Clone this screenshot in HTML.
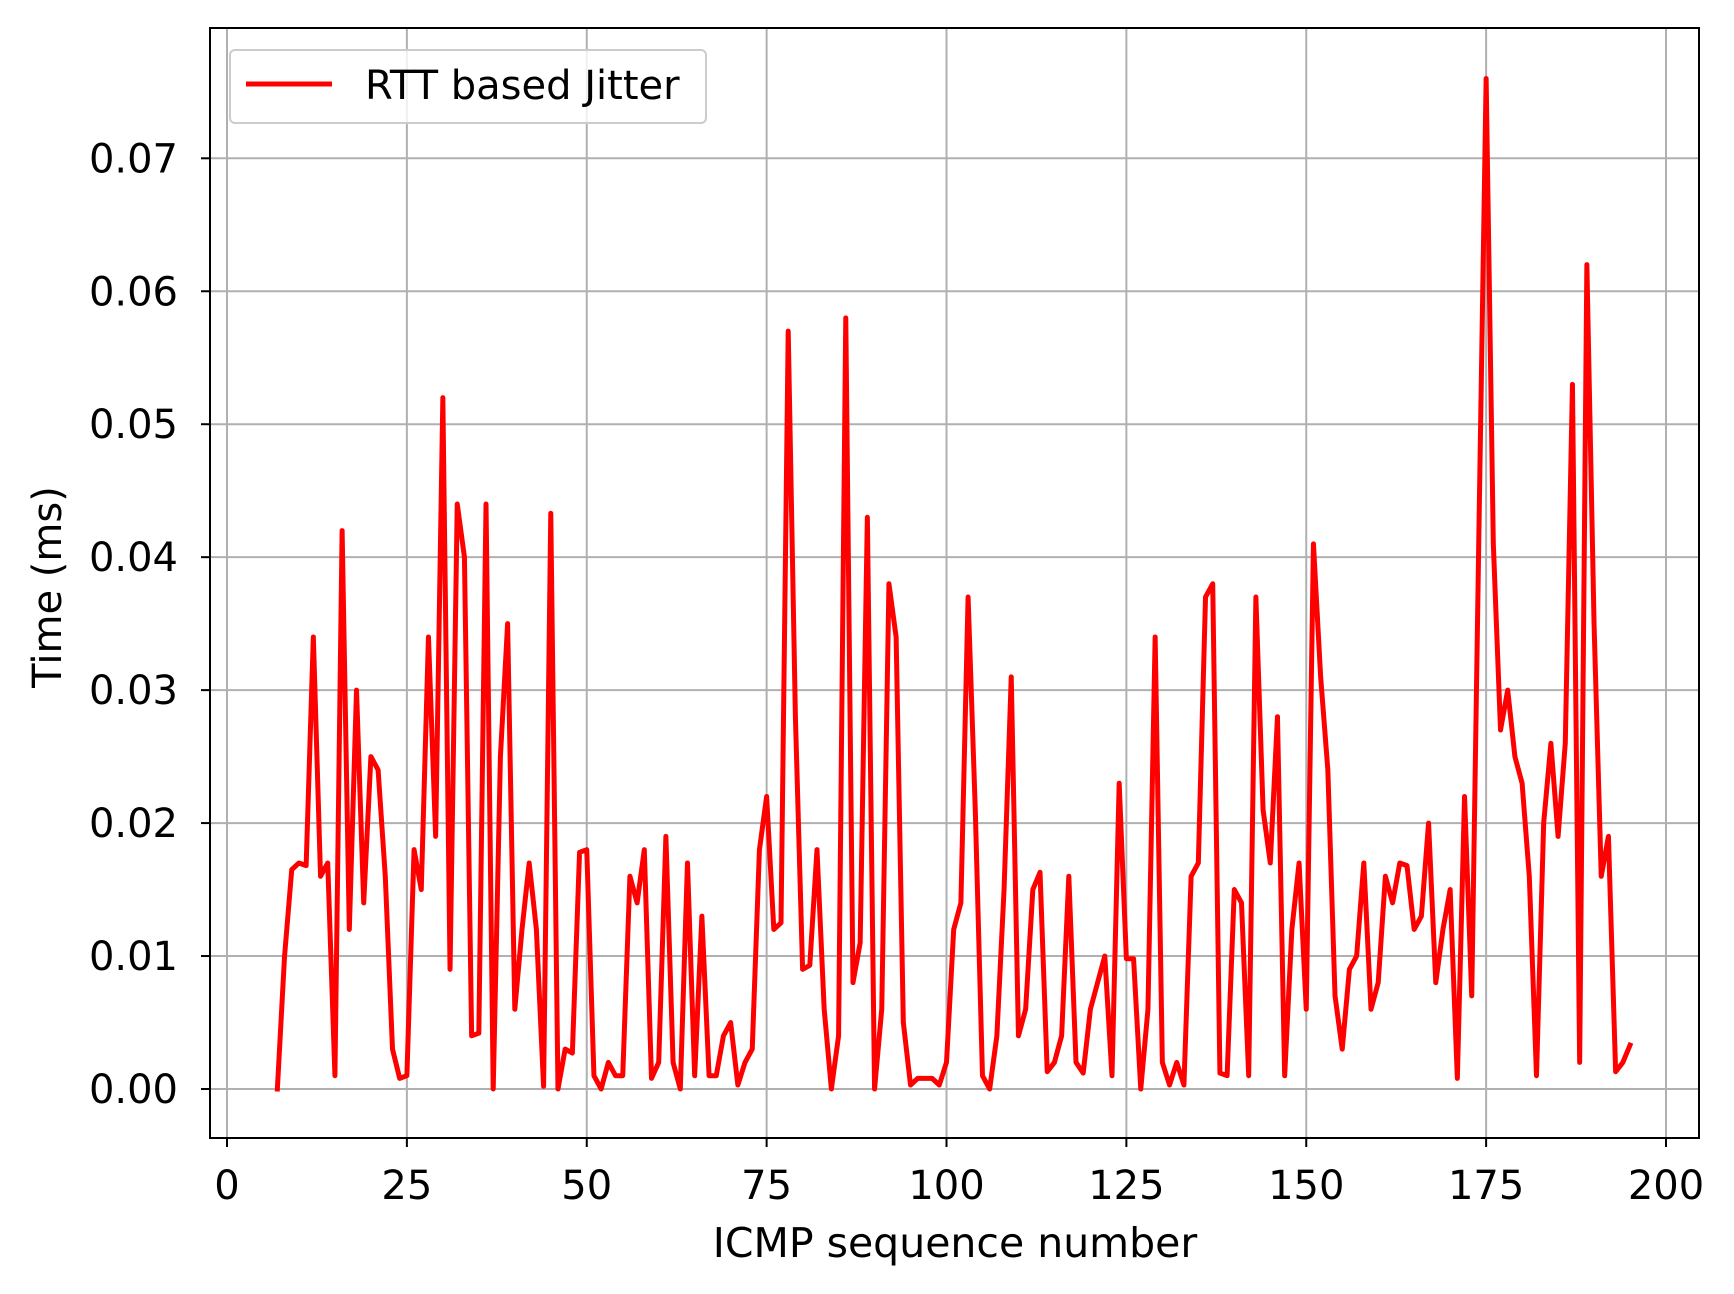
<!DOCTYPE html>
<html><head><meta charset="utf-8"><style>
html,body{margin:0;padding:0;background:#fff;}
svg{display:block;font-family:"DejaVu Sans","Liberation Sans",sans-serif;}
</style></head><body>
<svg id="chart" width="1734" height="1294" viewBox="0 0 1734 1294" xmlns="http://www.w3.org/2000/svg">
<rect width="1734" height="1294" fill="#fff"/>
<g id="grid"></g>
<g id="series"></g>
<rect x="210" y="28" width="1489" height="1110" fill="none" stroke="#000" stroke-width="2"/>
<g id="ticks"></g>
<text x="955" y="1257" font-size="41" text-anchor="middle">ICMP sequence number</text>
<text transform="translate(61,587) rotate(-90)" font-size="40" text-anchor="middle">Time (ms)</text>
<g>
<rect x="230" y="50" width="476" height="73" rx="5" fill="#fff" fill-opacity="0.8" stroke="#ccc" stroke-width="2"/>
<line x1="246" y1="84" x2="332" y2="84" stroke="#f00" stroke-width="5"/>
<text x="365" y="99" font-size="40">RTT based Jitter</text>
</g>
</svg>
<script>
const xStart = 7;
const values = [0,0.010,0.0165,0.017,0.0168,0.034,0.016,0.017,0.001,0.042,0.012,0.030,0.014,0.025,0.024,0.016,0.003,0.0008,0.001,0.018,0.015,0.034,0.019,0.052,0.009,0.044,0.040,0.004,0.0042,0.044,0.000,0.025,0.035,0.006,0.012,0.017,0.012,0.0002,0.0433,0.000,0.003,0.0027,0.0178,0.018,0.001,0.000,0.002,0.001,0.001,0.016,0.014,0.018,0.0008,0.002,0.019,0.002,0.000,0.017,0.001,0.013,0.001,0.001,0.004,0.005,0.0003,0.002,0.003,0.018,0.022,0.012,0.0125,0.057,0.028,0.009,0.0093,0.018,0.006,0.000,0.004,0.058,0.008,0.011,0.043,0.000,0.006,0.038,0.034,0.005,0.0003,0.0008,0.0008,0.0008,0.0003,0.002,0.012,0.014,0.037,0.021,0.001,0.000,0.004,0.015,0.031,0.004,0.006,0.015,0.0163,0.0013,0.002,0.004,0.016,0.002,0.0012,0.006,0.008,0.010,0.001,0.023,0.0098,0.0098,0.000,0.006,0.034,0.002,0.0003,0.002,0.0003,0.016,0.017,0.037,0.038,0.0012,0.001,0.015,0.014,0.001,0.037,0.021,0.017,0.028,0.001,0.012,0.017,0.006,0.041,0.031,0.024,0.007,0.003,0.009,0.010,0.017,0.006,0.008,0.016,0.014,0.017,0.0168,0.012,0.013,0.020,0.008,0.012,0.015,0.0008,0.022,0.007,0.042,0.076,0.041,0.027,0.030,0.025,0.023,0.016,0.001,0.020,0.026,0.019,0.026,0.053,0.002,0.062,0.035,0.016,0.019,0.0013,0.002,0.0033];
const xTicks = [0,25,50,75,100,125,150,175,200];
const yTicks = [0,0.01,0.02,0.03,0.04,0.05,0.06,0.07];
const yTickLabels = ["0.00","0.01","0.02","0.03","0.04","0.05","0.06","0.07"];

const X = v => 227 + v * (1666 - 227) / 200;
const Y = v => 1089 - v * (1089 - 158.3) / 0.07;
const NS = "http://www.w3.org/2000/svg";
const grid = document.getElementById('grid');
const ticks = document.getElementById('ticks');
function mk(tag, attrs, parent){const e=document.createElementNS(NS,tag);for(const k in attrs)e.setAttribute(k,attrs[k]);parent.appendChild(e);return e;}

xTicks.forEach(t=>{
  const g = mk('line',{x1:X(t),x2:X(t),y1:28,y2:1138,stroke:'#b0b0b0','stroke-width':2},grid);
  
  
  const tk = mk('line',{x1:X(t),x2:X(t),y1:1138,y2:1147,stroke:'#000','stroke-width':2},ticks);
  
  
  const lb = mk('text',{x:X(t),y:1199,'font-size':40,'text-anchor':'middle'},ticks);
  lb.textContent = String(t);
  
  
});
yTicks.forEach((t,i)=>{
  const g = mk('line',{x1:210,x2:1699,y1:Y(t),y2:Y(t),stroke:'#b0b0b0','stroke-width':2},grid);
  
  
  const tk = mk('line',{x1:201,x2:210,y1:Y(t),y2:Y(t),stroke:'#000','stroke-width':2},ticks);
  
  
  const lb = mk('text',{x:178,y:Y(t)+14,'font-size':40,'text-anchor':'end'},ticks);
  lb.textContent = yTickLabels[i];
  
  
});
const pts = values.map((v,i)=>X(xStart+i).toFixed(2)+','+Y(v).toFixed(2)).join(' ');
const line = mk('polyline',{points:pts,fill:'none',stroke:'#ff0000','stroke-width':5,'stroke-linejoin':'round','stroke-linecap':'square'},document.getElementById('series'));


</script>
</body></html>
